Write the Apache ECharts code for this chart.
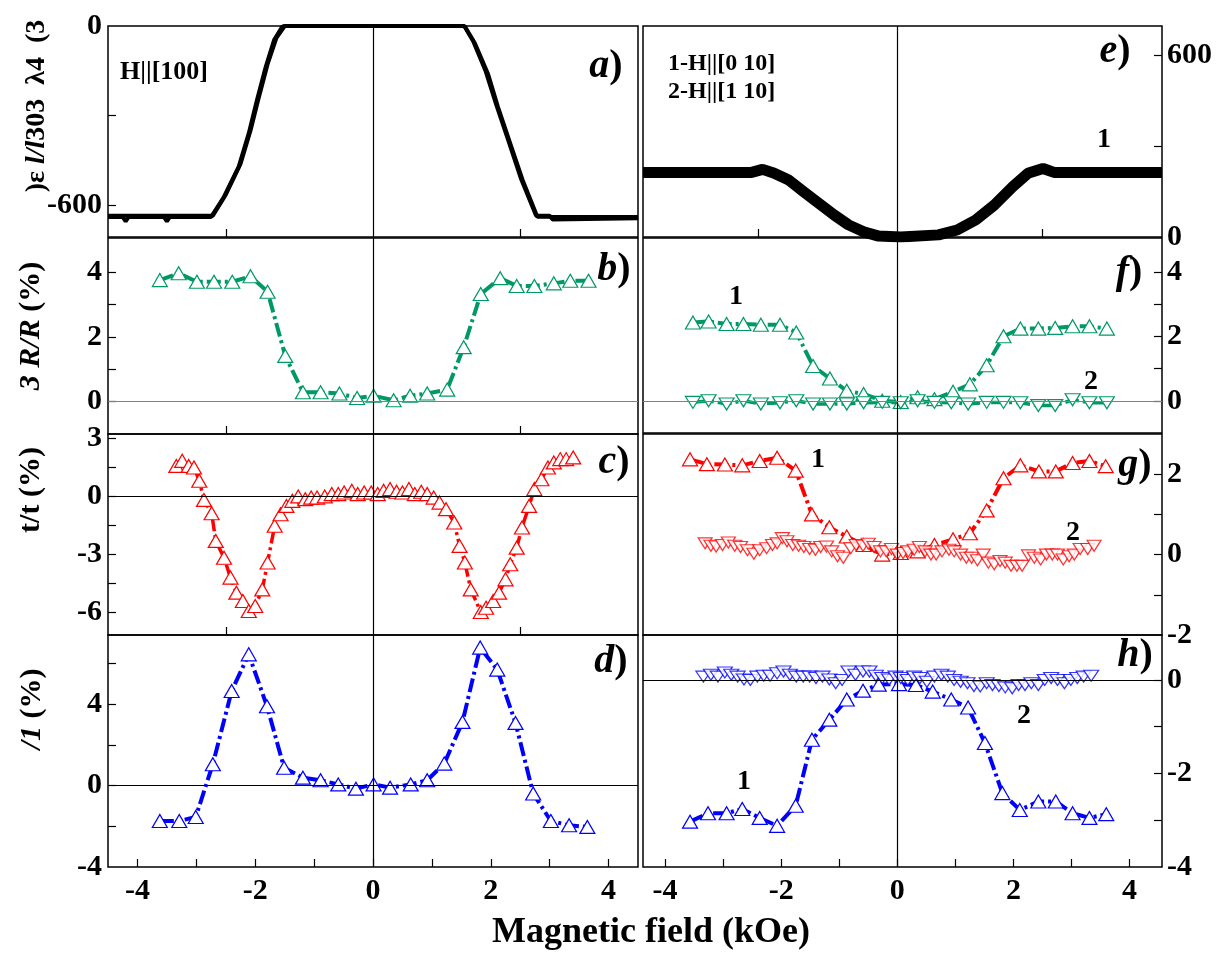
<!DOCTYPE html>
<html><head><meta charset="utf-8">
<script src="https://cdn.jsdelivr.net/npm/echarts@6/dist/echarts.min.js"></script>
<style>html,body{margin:0;padding:0;background:#fff}#c{width:1225px;height:953px}</style>
</head><body><div id="c"></div>
<script>
// ---------- data (x in kOe) ----------
// a) magnetostriction, H||[100] (two sweeps)
const aSweep1X = [-4.5,-4.25,-4.2,-4.15,-3.55,-3.5,-3.45,-2.75,-2.53,-2.28,-2.11,-1.97,-1.82,-1.68,-1.54,-1.5,1.52,1.56,1.73,1.95,2.12,2.33,2.54,2.79,4.5];
const aSweep1Y = [-640,-640,-655,-640,-640,-655,-640,-640,-572,-471,-360,-248,-136,-47,-2,0,0,-2,-58,-159,-270,-393,-516,-639,-640];
const aSweep2X = [-4.5,-2.72,-2.50,-2.25,-2.08,-1.94,-1.79,-1.64,-1.50,1.55,1.70,1.91,2.09,2.30,2.51,2.77,3.0,3.05,4.5];
const aSweep2Y = [-636,-636,-565,-462,-350,-240,-128,-40,0,0,-50,-150,-262,-385,-510,-636,-636,-648,-644];
// e) magnetostriction, curve 1
const eX = [-4.38,-2.51,-2.32,-2.13,-1.87,-1.61,-1.35,-1.09,-0.84,-0.58,-0.32,0.06,0.71,1.03,1.35,1.67,1.99,2.25,2.51,2.70,4.56];
const eY = [213,213,223,211,188,149,111,73,40,17,3,0,7,23,56,105,166,210,226,213,213];
// b) dR/R
const bX = [-3.62,-3.30,-2.99,-2.70,-2.39,-2.08,-1.79,-1.49,-1.19,-0.89,-0.57,-0.27,0.01,0.35,0.63,0.92,1.26,1.54,1.83,2.16,2.44,2.74,3.07,3.35,3.66];
const bY = [3.75,3.96,3.70,3.70,3.70,3.87,3.39,1.41,0.29,0.29,0.25,0.11,0.18,0.04,0.18,0.25,0.37,1.68,3.32,3.81,3.57,3.57,3.65,3.73,3.73];
// f) dR/R curves 1 and 2
const f1X = [-3.52,-3.25,-2.94,-2.65,-2.35,-2.02,-1.74,-1.45,-1.16,-0.87,-0.58,-0.26,0.06,0.35,0.64,0.96,1.25,1.54,1.83,2.12,2.43,2.72,3.02,3.31,3.61];
const f1Y = [2.43,2.46,2.38,2.38,2.36,2.36,2.12,1.08,0.69,0.31,0.21,0.00,-0.04,0.11,0.05,0.28,0.51,1.10,2.00,2.24,2.24,2.26,2.31,2.31,2.24];
const f2X = [-3.52,-3.25,-2.94,-2.65,-2.35,-2.02,-1.74,-1.45,-1.16,-0.87,-0.58,-0.26,0.06,0.35,0.64,0.93,1.22,1.54,1.83,2.12,2.43,2.72,3.02,3.31,3.61];
const f2Y = [-0.05,0.00,-0.10,0.00,-0.10,-0.06,0.00,-0.10,-0.10,-0.10,-0.06,-0.05,-0.06,0.00,-0.05,-0.06,-0.10,-0.05,-0.05,-0.06,-0.15,-0.15,0.03,-0.06,-0.06];
// c) dt/t
const cX = [-3.34,-3.24,-3.13,-3.04,-2.95,-2.87,-2.74,-2.67,-2.53,-2.42,-2.32,-2.21,-2.11,-2.00,-1.88,-1.79,-1.67,-1.57,-1.47,-1.37,-1.27,-1.15,-1.05,-0.95,-0.82,-0.70,-0.59,-0.49,-0.36,-0.26,-0.15,-0.03,0.08,0.18,0.29,0.40,0.50,0.61,0.71,0.82,0.92,1.03,1.13,1.24,1.38,1.47,1.56,1.66,1.83,1.92,2.04,2.14,2.25,2.33,2.44,2.53,2.65,2.74,2.86,2.97,3.07,3.18,3.28,3.40];
const cY = [1.55,1.81,1.55,1.47,0.78,-0.21,-0.90,-2.33,-3.20,-4.23,-5.01,-5.44,-5.96,-5.70,-4.84,-3.45,-1.55,-0.95,-0.52,-0.26,-0.03,-0.17,-0.09,-0.09,-0.03,0.09,0.09,0.17,0.26,0.09,0.17,0.17,0.09,0.26,0.35,0.21,0.17,0.35,0.09,0.21,0.09,-0.09,-0.35,-0.69,-1.38,-2.59,-3.45,-4.84,-6.01,-5.79,-5.44,-5.01,-4.32,-3.54,-2.68,-1.64,-0.52,0.35,0.86,1.47,1.73,1.90,1.90,1.99];
// g) dt/t curves 1 and 2
const g1X = [-3.57,-3.28,-2.97,-2.67,-2.37,-2.07,-1.75,-1.47,-1.17,-0.87,-0.58,-0.26,0.06,0.35,0.64,0.96,1.25,1.54,1.83,2.12,2.44,2.73,3.02,3.31,3.59];
const g1Y = [2.37,2.25,2.24,2.22,2.33,2.41,2.09,1.00,0.68,0.45,0.24,0.00,0.04,0.08,0.24,0.38,0.53,1.10,1.90,2.22,2.07,2.07,2.28,2.33,2.20];
const g2X = [-3.31,-3.21,-3.12,-3.01,-2.91,-2.80,-2.70,-2.58,-2.47,-2.37,-2.25,-2.15,-2.07,-1.98,-1.90,-1.80,-1.70,-1.61,-1.51,-1.41,-1.32,-1.22,-1.13,-1.03,-0.93,-0.80,-0.71,-0.59,-0.50,-0.40,-0.29,-0.19,-0.10,0.00,0.10,0.19,0.29,0.38,0.48,0.58,0.67,0.77,0.89,0.98,1.09,1.19,1.28,1.38,1.48,1.57,1.67,1.77,1.86,1.96,2.06,2.15,2.26,2.36,2.47,2.57,2.67,2.76,2.86,2.96,3.05,3.15,3.28,3.39];
const g2Y = [0.28,0.22,0.20,0.24,0.30,0.22,0.19,0.11,0.02,0.11,0.16,0.24,0.28,0.41,0.33,0.24,0.22,0.19,0.14,0.12,0.19,0.20,0.08,-0.04,-0.08,0.16,0.24,0.22,0.27,0.19,0.08,0.08,0.14,0.00,0.04,0.08,0.12,0.19,0.08,0.00,0.00,0.08,0.12,0.08,0.00,-0.08,-0.08,-0.14,0.00,-0.20,-0.24,-0.16,-0.20,-0.28,-0.28,-0.28,-0.02,-0.08,-0.12,0.00,0.00,0.00,-0.12,-0.04,0.00,0.14,0.14,0.22];
// d) d mu / mu
const dX = [-3.62,-3.29,-3.01,-2.72,-2.40,-2.11,-1.80,-1.51,-1.19,-0.89,-0.59,-0.29,0.01,0.29,0.64,0.92,1.21,1.52,1.82,2.11,2.42,2.72,3.02,3.33,3.64];
const dY = [-1.74,-1.74,-1.54,1.05,4.65,6.45,3.90,0.88,0.39,0.26,0.06,-0.15,0.06,-0.10,0.06,0.26,1.08,3.13,6.78,5.70,3.08,-0.39,-1.74,-1.95,-2.03];
// h) curves 1 and 2
const h1X = [-3.57,-3.26,-2.94,-2.67,-2.37,-2.07,-1.75,-1.47,-1.17,-0.87,-0.59,-0.32,0.03,0.32,0.61,0.93,1.22,1.51,1.81,2.11,2.43,2.73,3.02,3.31,3.60];
const h1Y = [-3.03,-2.85,-2.85,-2.76,-2.95,-3.12,-2.69,-1.28,-0.85,-0.42,-0.23,-0.10,-0.09,-0.11,-0.25,-0.42,-0.59,-1.35,-2.42,-2.78,-2.60,-2.60,-2.85,-2.95,-2.87];
const h2X = [-3.34,-3.21,-3.09,-2.97,-2.86,-2.75,-2.64,-2.53,-2.41,-2.30,-2.19,-2.07,-1.96,-1.85,-1.74,-1.62,-1.51,-1.40,-1.29,-1.17,-1.06,-0.95,-0.84,-0.72,-0.59,-0.48,-0.37,-0.26,-0.14,-0.03,0.06,0.18,0.29,0.39,0.51,0.64,0.76,0.87,0.98,1.09,1.21,1.32,1.43,1.54,1.64,1.75,1.86,1.98,2.09,2.20,2.31,2.43,2.54,2.65,2.76,2.88,2.99,3.10,3.21,3.34];
const h2Y = [0.07,0.11,0.07,0.16,0.11,0.07,0.01,0.00,0.07,0.09,0.09,0.14,0.18,0.11,0.07,0.07,0.07,0.04,0.07,0.01,-0.07,0.00,0.18,0.11,0.18,0.18,0.09,0.04,0.01,0.07,0.04,0.00,0.07,0.04,-0.04,0.07,0.11,0.07,0.00,-0.04,-0.07,-0.13,-0.14,-0.07,-0.11,-0.13,-0.16,-0.18,-0.11,-0.11,-0.07,-0.11,0.00,0.04,0.00,-0.07,0.00,0.04,0.07,0.09];

// tick values
const xMainLabels = [-4,-2,0,2,4];
const xMainTicks = [-4,-3,-2,-1,0,1,2,3,4];
const xMidTicksL = [-2.5,2.5];
const xMidTicksR = [-2.4,2.5];

const FONT = '"Liberation Serif","Times New Roman",serif';
const GREEN = '#009966', RED = '#ff0000', BLUE = '#0000ff';
const zip = (xs, ys) => xs.map((x, i) => [x, ys[i]]);

const L = {left:108, width:530}, R = {left:643, width:519};
const grids = [
  {...L, top:26, height:211}, {...L, top:238, height:196}, {...L, top:434, height:201}, {...L, top:635, height:232},
  {...R, top:26, height:211}, {...R, top:238, height:195}, {...R, top:434, height:201}, {...R, top:635, height:232}
].map(g => ({...g, show:true, borderColor:'#000', borderWidth:1.5, backgroundColor:'transparent', containLabel:false, outerBoundsMode:'none'}));

function xAx(gi, min, max, ticks, labels) {
  return {type:'value', gridIndex:gi, min, max, position:'bottom',
    axisLine:{show:false, onZero:false}, splitLine:{show:false},
    axisTick:{show: ticks.length>0, inside:true, length:8, lineStyle:{color:'#000', width:1.2}, customValues:ticks},
    axisLabel:{show: !!labels, customValues: labels || [], margin:9, color:'#000', fontFamily:FONT, fontWeight:'bold', fontSize:30}};
}
function yAx(gi, min, max, labels, ticks, pos) {
  return {type:'value', gridIndex:gi, min, max, position:pos,
    axisLine:{show:false, onZero:false}, splitLine:{show:false},
    axisTick:{show:true, inside:true, length:8, lineStyle:{color:'#000', width:1.2}, customValues:ticks},
    axisLabel:{show:true, customValues:labels, margin: pos==='left'?6:5, color:'#000', fontFamily:FONT, fontWeight:'bold', fontSize:30}};
}
const xAxes = [
  xAx(0,-4.5,4.5,xMidTicksL), xAx(1,-4.5,4.5,xMidTicksL), xAx(2,-4.5,4.5,xMidTicksL), xAx(3,-4.5,4.5,xMainTicks,xMainLabels),
  xAx(4,-4.38,4.56,xMidTicksR), xAx(5,-4.38,4.56,[]), xAx(6,-4.38,4.56,[]), xAx(7,-4.38,4.56,xMainTicks,xMainLabels)
];
const yAxes = [
  yAx(0,-707,0,[-600,0],[-600,-300],'left'),
  yAx(1,-1,5.05,[0,2,4],[0,1,2,3,4],'left'),
  yAx(2,-7.2,3.2,[-6,-3,0,3],[-6,-4.5,-3,-1.5,0,1.5,3],'left'),
  yAx(3,-4,7.4,[-4,0,4],[-2,0,2,4,6],'left'),
  yAx(4,0,696,[0,600],[300,600],'right'),
  yAx(5,-1,5.05,[0,2,4],[0,1,2,3,4],'right'),
  yAx(6,-2,3,[-2,0,2],[-1,0,1,2],'right'),
  yAx(7,-4,0.96,[-4,-2,0],[-3,-2,-1,0],'right')
];

function refLines(zeroColor) {
  const data = [{xAxis:0, lineStyle:{color:'#000', width:1.2, type:'solid'}}];
  if (zeroColor) data.push({yAxis:0, lineStyle:{color:zeroColor, width:1.2, type:'solid'}});
  return {silent:true, symbol:['none','none'], label:{show:false}, animation:false, data};
}
function marked(gi, data, color, size, opts) {
  opts = opts || {};
  return {type:'line', xAxisIndex:gi, yAxisIndex:gi, data, z:3,
    symbol:'triangle', symbolSize:size, symbolRotate: opts.down ? 180 : 0, showAllSymbol:true,
    itemStyle:{color:'#fff', borderColor:color, borderWidth:1.2},
    lineStyle:{color, width: opts.w || 4, type: opts.dash || [14,4,3,4], cap:'butt'},
    markLine: opts.ref, animation:false};
}
function scat(gi, data, color, size) {
  return {type:'scatter', xAxisIndex:gi, yAxisIndex:gi, data, z:4,
    symbol:'triangle', symbolSize:size, symbolRotate:180,
    itemStyle:{color:'#fff', borderColor:color, borderWidth:1.2}, animation:false};
}
function blackLine(gi, data, w, ref) {
  return {type:'line', xAxisIndex:gi, yAxisIndex:gi, data, symbol:'none',
    lineStyle:{color:'#000', width:w}, markLine:ref, animation:false};
}

const series = [
  blackLine(0, zip(aSweep1X,aSweep1Y), 4, refLines(null)),
  blackLine(0, zip(aSweep2X,aSweep2Y), 4),
  marked(1, zip(bX,bY), GREEN, [15,13], {ref:refLines('#808080')}),
  marked(2, zip(cX,cY), RED, [15,13], {w:3.5, ref:refLines('#000')}),
  marked(3, zip(dX,dY), BLUE, [15,13], {ref:refLines('#000')}),
  blackLine(4, zip(eX,eY), 11, refLines(null)),
  marked(5, zip(f1X,f1Y), GREEN, [15,13], {ref:refLines('#808080')}),
  marked(5, zip(f2X,f2Y), GREEN, [15,12], {down:true, w:3.5}),
  marked(6, zip(g1X,g1Y), RED, [15,13], {ref:refLines(null)}),
  scat(6, zip(g2X,g2Y), RED, [14,11]),
  marked(7, zip(h1X,h1Y), BLUE, [15,13], {ref:refLines('#000')}),
  scat(7, zip(h2X,h2Y), BLUE, [15,11])
];

// ---------- text annotations ----------
const B = (size, italic) => ({fontFamily:FONT, fontWeight:'bold', fontSize:size, fontStyle: italic?'italic':'normal', fill:'#000'});
function txt(x, y, text, rich, rot, align) {
  return {type:'text', x, y, rotation: rot || 0, silent:true, z:10,
    style:{text, fill:'#000', align: align||'center', verticalAlign:'middle', textAlign: align||'center', textVerticalAlign:'middle',
      fontFamily:FONT, fontWeight:'bold', fontSize:26, rich}};
}
const panelRich = {l:B(40,true), p:B(40,false)};
const yRich = {i:B(30,true), n:B(30,false), s:B(28,false), si:B(28,true)};
const graphics = [
  txt(37, 106, '{s|)ε }{si|l/l}{s|303  λ4  (3}', yRich, Math.PI/2),
  txt(31, 326, '{i|3 R/R }{n|(%)}', yRich, Math.PI/2),
  txt(31, 490, '{n|t/t (%)}', yRich, Math.PI/2),
  txt(32, 709, '{i|/1 }{n|(%)}', yRich, Math.PI/2),
  txt(651, 933, '{t|Magnetic field (kOe)}', {t:B(36,false)}),
  txt(606, 67, '{l|a}{p|)}', panelRich),
  txt(614, 270, '{l|b}{p|)}', panelRich),
  txt(614, 463, '{l|c}{p|)}', panelRich),
  txt(611, 662, '{l|d}{p|)}', panelRich),
  txt(1115, 52, '{l|e}{p|)}', panelRich),
  txt(1129, 273, '{l|f}{p|)}', panelRich),
  txt(1135, 466, '{l|g}{p|)}', panelRich),
  txt(1135, 656, '{l|h}{p|)}', panelRich),
  txt(120, 72, '{t|H||[100]}', {t:B(26,false)}, 0, 'left'),
  txt(668, 64, '{t|1-H||[0 10]}', {t:B(24,false)}, 0, 'left'),
  txt(668, 92, '{t|2-H||[1 10]}', {t:B(24,false)}, 0, 'left'),
  txt(1104, 140, '{t|1}', {t:B(28,false)}),
  txt(736, 297, '{t|1}', {t:B(28,false)}),
  txt(1091, 382, '{t|2}', {t:B(28,false)}),
  txt(818, 460, '{t|1}', {t:B(28,false)}),
  txt(1073, 533, '{t|2}', {t:B(28,false)}),
  txt(744, 782, '{t|1}', {t:B(28,false)}),
  txt(1024, 716, '{t|2}', {t:B(28,false)})
];

const chart = echarts.init(document.getElementById('c'), null, {renderer:'canvas'});
chart.setOption({
  animation:false, backgroundColor:'#fff',
  grid: grids, xAxis: xAxes, yAxis: yAxes, series, graphic: graphics
});
</script></body></html>
